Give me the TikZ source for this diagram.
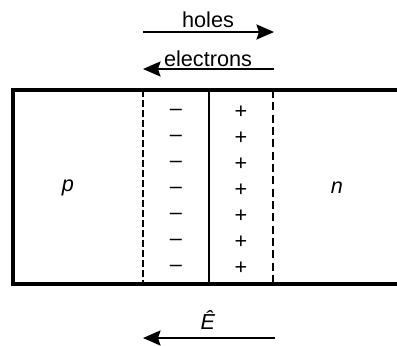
\documentclass[tikz,border=0pt]{standalone}
\usepackage{fontspec}
\setmainfont{Liberation Sans}
\usetikzlibrary{arrows.meta}

\begin{document}
\begin{tikzpicture}[x=0.6pt, y=-0.6pt, font=\fontsize{13}{15}\selectfont]
\tikzset{
  junc/.style ={draw, line width=1.9pt},
  edgeP/.style={line width=1.5pt, dash pattern=on 4.2pt off 1.8pt},
  edgeN/.style={line width=0.9pt, dash pattern=on 4.8pt off 2.6pt},
  mid/.style  ={line width=0.9pt},
  flow/.style ={-{Stealth[length=10.5pt,width=9pt,inset=1.5pt]}, line width=1.3pt},
  sgn/.style  ={inner sep=0pt}
}
\useasboundingbox (0,0) rectangle (397,345);
\clip (0,0) rectangle (397,345);
% junction
\draw[junc] (13,90) rectangle (410,284);
\draw[edgeP] (143,90) -- (143,284);
\draw[mid] (209,90) -- (209,284);
\draw[edgeN] (273,90) -- (273,284);
\node (pside) at (68,188) {\textit{p}};
\node (nside) at (337,188) {\textit{n}};
\foreach \i in {0,...,6}{
  \node[sgn] (neg\i) at (176,112+26*\i) {\textendash};
  \node[sgn] (pos\i) at (241,112+26*\i) {+};
}
% carrier flow
\coordinate (hA) at (143,32); \coordinate (hB) at (274,32);
\coordinate (eA) at (274,69); \coordinate (eB) at (143,69);
\coordinate (fA) at (275,338); \coordinate (fB) at (143,338);
\node (holes) at (208,20) {holes};
\node (elec) at (208,59) {electrons};
\node (efield) at (208,320) {\textit{Ê}};
\draw[flow] (hA) -- (hB);
\draw[flow] (eA) -- (eB);
\draw[flow] (fA) -- (fB);
\end{tikzpicture}
\end{document}
